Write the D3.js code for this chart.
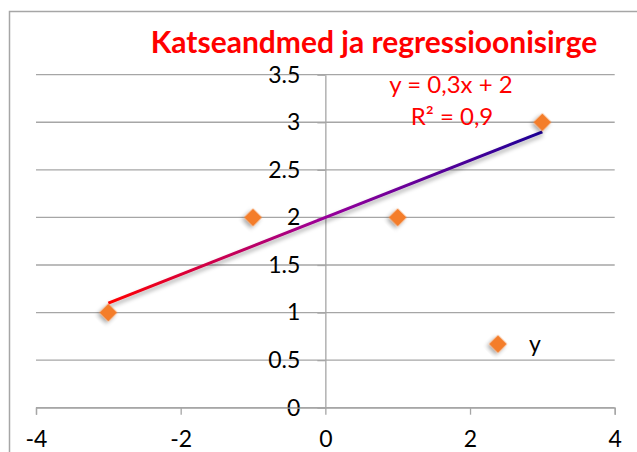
<!DOCTYPE html>
<html>
<head>
<meta charset="utf-8">
<script src="https://cdn.jsdelivr.net/npm/d3@7"></script>
<style>
  body { margin: 0; background: #fff; }
  text { font-family: Lato, "Open Sans", sans-serif; }
</style>
</head>
<body>
<script>
// data
var xValues = [-3, -1, 1, 3];
var yValues = [1, 2, 2, 3];
var seriesName = "y";
var xTicks = [-4, -2, 0, 2, 4];
var xTickLabels = ["-4", "-2", "0", "2", "4"];
var yTicks = [0, 0.5, 1, 1.5, 2, 2.5, 3, 3.5];
var yTickLabels = ["0", "0.5", "1", "1.5", "2", "2.5", "3", "3.5"];
var titleText = "Katseandmed ja regressioonisirge";

var w = 637, h = 452;

var svg = d3.select("body").append("svg")
    .attr("width", w)
    .attr("height", h);

// outer chart frame (runs off the right and bottom edges)
svg.append("rect")
    .attr("x", 9.5).attr("y", 11.5)
    .attr("width", 700).attr("height", 500)
    .style("fill", "none")
    .style("stroke", "#a6a6a6")
    .style("stroke-width", 1.5);

var x = d3.scaleLinear().domain([-4, 4]).range([36, 614.7]);
var y = d3.scaleLinear().domain([0, 3.5]).range([407.7, 74.7]);

var defs = svg.append("defs");
var shadow = defs.append("filter").attr("id", "shadow")
    .attr("x", "-50%").attr("y", "-50%").attr("width", "200%").attr("height", "200%");
shadow.append("feDropShadow")
    .attr("dx", 0).attr("dy", 3).attr("stdDeviation", 2)
    .attr("flood-color", "#000").attr("flood-opacity", 0.35);

// horizontal gridlines
svg.append("g").selectAll("line")
    .data(yTicks)
    .enter().append("line")
    .attr("x1", x(-4)).attr("x2", x(4))
    .attr("y1", function(d){ return y(d); })
    .attr("y2", function(d){ return y(d); })
    .style("stroke", "#a6a6a6")
    .style("stroke-width", 1.3);

// y axis at x = 0
var yAxis = d3.axisLeft(y)
    .tickValues(yTicks)
    .tickFormat(function(d, i){ return yTickLabels[i]; })
    .tickSizeInner(8).tickSizeOuter(0)
    .tickPadding(17);
var gy = svg.append("g")
    .attr("transform", "translate(" + x(0) + ",0)")
    .call(yAxis);

// x axis at y = 0
var xAxis = d3.axisBottom(x)
    .tickValues(xTicks)
    .tickFormat(function(d, i){ return xTickLabels[i]; })
    .tickSizeInner(7).tickSizeOuter(7)
    .tickPadding(16);
var gx = svg.append("g")
    .attr("transform", "translate(0," + y(0) + ")")
    .call(xAxis);

[gx, gy].forEach(function(g){
    g.select(".domain").style("stroke", "#a6a6a6").style("stroke-width", 1.3);
    g.selectAll(".tick line").style("stroke", "#a6a6a6").style("stroke-width", 1.3);
    g.selectAll(".tick text")
        .style("font-family", "Lato, sans-serif")
        .style("font-size", "23px")
        .style("fill", "#000");
});

// least squares trendline from the points
var mx = d3.mean(xValues), my = d3.mean(yValues);
var sxy = d3.sum(xValues, function(v, i){ return (v - mx) * (yValues[i] - my); });
var sxx = d3.sum(xValues, function(v){ return (v - mx) * (v - mx); });
var slope = sxy / sxx, intercept = my - slope * mx;
var syy = d3.sum(yValues, function(v){ return (v - my) * (v - my); });
var r2 = (slope * slope * sxx) / syy;

var x0 = d3.min(xValues), x1 = d3.max(xValues);
var grad = defs.append("linearGradient").attr("id", "trendGrad")
    .attr("gradientUnits", "userSpaceOnUse")
    .attr("x1", x(x0)).attr("y1", 0)
    .attr("x2", x(x1)).attr("y2", 0);
grad.append("stop").attr("offset", "0%").attr("stop-color", "#ff0000");
grad.append("stop").attr("offset", "50%").attr("stop-color", "#98069a");
grad.append("stop").attr("offset", "100%").attr("stop-color", "#1c0096");

svg.append("line")
    .attr("x1", x(x0)).attr("y1", y(slope * x0 + intercept))
    .attr("x2", x(x1)).attr("y2", y(slope * x1 + intercept))
    .style("stroke", "url(#trendGrad)")
    .style("stroke-width", 3)
    .attr("filter", "url(#shadow)");

// diamond markers
var diamond = d3.symbol().type(d3.symbolSquare).size(160);
svg.append("g").selectAll("path")
    .data(xValues)
    .enter().append("path")
    .attr("d", diamond)
    .attr("transform", function(d, i){
        return "translate(" + x(d) + "," + y(yValues[i]) + ") rotate(45)";
    })
    .style("fill", "#f47d2a")
    .attr("filter", "url(#shadow)");

// equation label
var fmt = function(v){ return String(+v.toFixed(1)).replace(".", ","); };
svg.append("text")
    .attr("x", 451).attr("y", 93)
    .attr("text-anchor", "middle")
    .style("font-size", "24px")
    .style("fill", "#ff0000")
    .text("y = " + fmt(slope) + "x + " + fmt(intercept));
svg.append("text")
    .attr("x", 452).attr("y", 125)
    .attr("text-anchor", "middle")
    .style("font-size", "24px")
    .style("fill", "#ff0000")
    .text("R² = " + fmt(r2));

// legend
svg.append("path")
    .attr("d", diamond)
    .attr("transform", "translate(498,344) rotate(45)")
    .style("fill", "#f47d2a")
    .attr("filter", "url(#shadow)");
svg.append("text")
    .attr("x", 529).attr("y", 351.5)
    .style("font-size", "23px")
    .style("fill", "#000")
    .text(seriesName);

// title
var title = svg.append("text")
    .attr("x", 374).attr("y", 53)
    .attr("text-anchor", "middle")
    .style("font-size", "30px")
    .style("font-weight", "bold")
    .style("fill", "#ff0000")
    .text(titleText);
</script>
</body>
</html>
